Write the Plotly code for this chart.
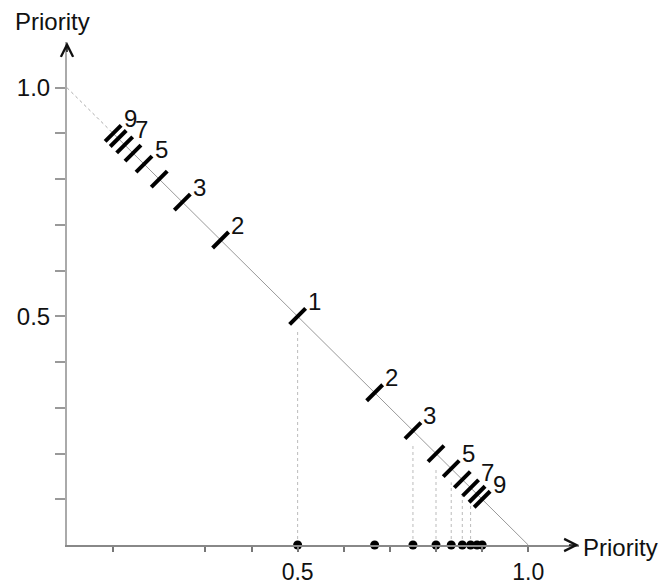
import plotly.graph_objects as go

# ---- data ----
lower_n = [1, 2, 3, 4, 5, 6, 7, 8, 9]
lower_x = [0.5, 0.667, 0.75, 0.8, 0.833, 0.857, 0.875, 0.889, 0.9]
upper_n = [2, 3, 4, 5, 6, 7, 8, 9]
upper_x = [0.333, 0.25, 0.2, 0.167, 0.143, 0.125, 0.111, 0.1]
lower_labeled = [1, 2, 3, 5, 7, 9]
upper_labeled = [2, 3, 5, 7, 9]
drop_line_n = [1, 3, 4, 5, 6, 7]
y_tickvals = [0.1, 0.2, 0.3, 0.4, 0.5, 0.6, 0.7, 0.8, 0.9, 1.0]
y_ticktext = ["", "", "", "", "0.5", "", "", "", "", "1.0"]
x_tickvals = [0.1, 0.3, 0.4, 0.5, 0.6, 0.7, 0.8, 0.9, 1.0]
x_ticktext = ["", "", "", "0.5", "", "", "", "", "1.0"]
axis_title = "Priority"

FONT = "Liberation Sans, Arial, sans-serif"
fig = go.Figure()

# diagonal: dotted near the top, thin grey after
fig.add_trace(go.Scatter(x=[0, 0.1], y=[1, 0.9], mode="lines",
                         line=dict(color="#aaa", width=1, dash="dot"),
                         hoverinfo="skip", showlegend=False))
fig.add_trace(go.Scatter(x=[0.1, 1.0], y=[0.9, 0.0], mode="lines",
                         line=dict(color="#999", width=1),
                         hoverinfo="skip", showlegend=False))

# dotted drop lines
for n, x in zip(lower_n, lower_x):
    if n in drop_line_n:
        fig.add_trace(go.Scatter(x=[x, x], y=[0, (1 - x) - 0.03], mode="lines",
                                 line=dict(color="#bbb", width=1, dash="dot"),
                                 hoverinfo="skip", showlegend=False))

# marks on diagonal
all_x = lower_x + upper_x
fig.add_trace(go.Scatter(x=all_x, y=[1 - v for v in all_x], mode="markers",
                         marker=dict(symbol="line-ne", size=16,
                                     line=dict(width=4, color="black")),
                         showlegend=False))

# dots on x axis
fig.add_trace(go.Scatter(x=lower_x, y=[0] * len(lower_x), mode="markers",
                         marker=dict(symbol="circle", size=9, color="black"),
                         cliponaxis=False, showlegend=False))

ann = []
for n, x in zip(lower_n, lower_x):
    if n in lower_labeled:
        ann.append(dict(x=x, y=1 - x, text=str(n), showarrow=False,
                        xshift=17, yshift=15, font=dict(size=24, color="#111", family=FONT)))
for n, x in zip(upper_n, upper_x):
    if n in upper_labeled:
        ann.append(dict(x=x, y=1 - x, text=str(n), showarrow=False,
                        xshift=17, yshift=15, font=dict(size=24, color="#111", family=FONT)))

# arrowheads
ann.append(dict(x=1.11, y=0, ax=1.085, ay=0, xref="x", yref="y", axref="x", ayref="y",
                showarrow=True, arrowhead=5, arrowsize=1.6, arrowwidth=1.5,
                arrowcolor="#111", text=""))
ann.append(dict(x=0, y=1.1, ax=0, ay=1.075, xref="x", yref="y", axref="x", ayref="y",
                showarrow=True, arrowhead=5, arrowsize=1.6, arrowwidth=1.5,
                arrowcolor="#111", text=""))
# axis titles
ann.append(dict(x=-0.029, y=1.040, xref="paper", yref="paper", text=axis_title,
                showarrow=False, xanchor="center", yanchor="middle",
                font=dict(size=24, color="#111", family=FONT)))
ann.append(dict(x=1.004, y=-0.004, xref="paper", yref="paper", text=axis_title,
                showarrow=False, xanchor="left", yanchor="middle",
                font=dict(size=24, color="#111", family=FONT)))

fig.update_layout(
    width=669, height=584,
    margin=dict(l=67, r=90, t=42, b=39, autoexpand=False),
    plot_bgcolor="white", paper_bgcolor="white",
    annotations=ann,
    font=dict(family=FONT, size=24, color="#111"),
)
fig.update_xaxes(range=[0, 1.11], showgrid=False, zeroline=False, automargin=False,
                 showline=True, linecolor="#888", linewidth=2,
                 ticks="outside", ticklen=5, tickwidth=1.5, tickcolor="#777",
                 tickfont=dict(size=23),
                 tickvals=x_tickvals, ticktext=x_ticktext)
fig.update_yaxes(range=[0, 1.1], showgrid=False, zeroline=False, automargin=False,
                 showline=True, linecolor="#aaa", linewidth=2,
                 ticks="outside", ticklen=10, tickwidth=2, tickcolor="#999",
                 tickvals=y_tickvals, ticktext=y_ticktext)

fig.write_html("out.html", config={"displayModeBar": False},
               post_script="document.body.style.margin='0';")
